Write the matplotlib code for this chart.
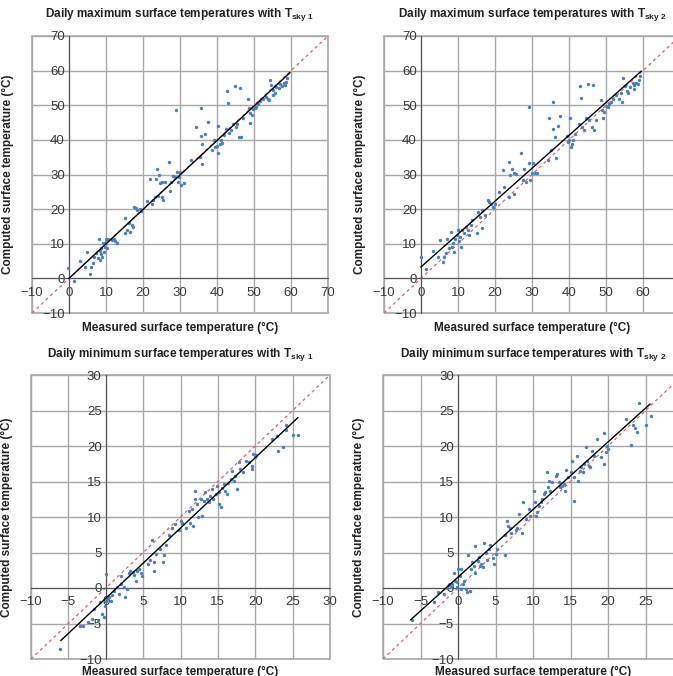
import numpy as np
import matplotlib
matplotlib.use('Agg')
import matplotlib.pyplot as plt
from matplotlib.patches import Rectangle

plt.rcParams['font.family'] = ['Liberation Sans', 'DejaVu Sans']
plt.rcParams['mathtext.fontset'] = 'custom'
plt.rcParams['mathtext.rm'] = 'Liberation Sans'
plt.rcParams['mathtext.bf'] = 'Liberation Sans:bold'

# panel 1: daily max, Tsky 1 (measured, computed)
max1_meas = [-0.3, 1.3, 3.1, 4.9, 4.2, 5.8, 6.0, 6.5, 6.8, 7.4, 8.0, 8.3, 8.6, 8.7, 9.0, 9.4, 9.6, 9.9, 10.1, 10.3,
             10.5, 9.2, 8.3, 7.9, 11.7, 12.1, 12.5, 13.1, 15.0, 15.0, 15.8, 16.2, 16.4, 17.1, 17.3, 17.6, 18.0, 18.5,
             19.1, 19.5, 21.1, 22.0, 22.3, 22.7, 23.3, 23.6, 23.9, 24.1, 24.3, 24.7, 25.0, 25.2, 25.4, 25.9, 27.0,
             27.2, 27.7, 28.1, 28.6, 29.0, 29.2, 29.5, 29.7, 30.1, 30.4, 31.0, 32.9, 34.4, 35.3, 35.6, 35.6, 35.9,
             36.0, 36.8, 37.6, 38.6, 39.2, 39.5, 40.0, 40.3, 40.3, 40.7, 41.2, 41.4, 41.9, 42.5, 42.8, 43.1, 43.2,
             43.7, 44.3, 44.8, 45.0, 45.4, 45.9, 46.3, 46.6, 47.0, 48.4, 48.6, 48.8, 49.0, 49.5, 49.7, 50.2, 50.6,
             51.1, 51.7, 52.4, 53.3, 53.8, 54.4, 54.7, 55.0, 55.1, 55.6, 56.0, 56.8, 57.1, 57.7, 58.0, 58.3, 58.6,
             58.9, 54.1]
max1_comp = [3.1, -0.8, 5.0, 7.5, 3.4, 1.2, 3.4, 4.3, 6.3, 7.2, 11.4, 5.3, 7.0, 8.7, 6.3, 7.7, 9.1, 11.3, 10.4, 8.7,
             11.5, 10.1, 8.0, 5.8, 11.1, 11.5, 10.9, 10.1, 17.3, 13.0, 14.1, 16.1, 13.5, 15.4, 14.7, 20.7, 20.2, 19.7,
             19.9, 19.5, 22.3, 28.8, 21.4, 22.6, 23.6, 28.8, 31.5, 23.8, 29.8, 27.6, 23.6, 27.9, 22.6, 27.9, 33.5,
             25.3, 27.9, 29.6, 29.3, 48.6, 30.8, 27.9, 29.3, 30.8, 26.9, 27.6, 34.3, 43.8, 35.1, 49.3, 41.2, 38.7,
             32.9, 41.8, 45.2, 37.2, 39.9, 37.8, 38.3, 43.9, 36.1, 38.9, 40.1, 39.1, 41.3, 43.0, 54.1, 50.7, 42.0,
             42.8, 44.7, 55.5, 43.8, 44.5, 40.7, 55.1, 40.7, 46.2, 51.7, 49.3, 47.8, 44.9, 47.2, 48.8, 49.3, 49.5,
             50.5, 51.3, 51.9, 52.4, 51.9, 57.2, 55.8, 54.3, 52.9, 53.4, 55.3, 55.1, 56.1, 55.5, 56.4, 55.8, 56.7,
             58.0, 51.4]

# panel 2: daily max, Tsky 2
max2_meas = [0.0, 1.4, 3.2, 4.5, 5.1, 6.0, 6.3, 6.8, 7.0, 7.7, 8.1, 8.4, 8.7, 9.0, 9.3, 9.6, 9.9, 10.2, 10.5, 10.8,
             11.2, 11.7, 12.2, 12.6, 13.0, 13.5, 13.9, 15.0, 15.3, 15.9, 16.4, 16.6, 17.4, 18.0, 18.5, 18.9, 19.4,
             20.1, 21.2, 22.1, 22.5, 23.7, 23.9, 24.1, 24.5, 25.0, 25.2, 25.7, 27.0, 27.5, 27.9, 28.4, 29.1, 29.3,
             29.4, 29.9, 30.4, 30.8, 31.3, 34.2, 34.7, 35.1, 35.6, 35.8, 36.2, 36.5, 37.1, 37.6, 39.4, 39.8, 40.1,
             40.4, 40.5, 40.7, 41.2, 41.7, 42.6, 43.0, 43.2, 43.5, 44.1, 44.6, 45.0, 45.5, 46.1, 46.4, 46.8, 47.3,
             48.6, 48.8, 49.1, 49.5, 50.0, 50.5, 50.9, 51.4, 51.8, 52.7, 53.4, 54.1, 54.3, 54.7, 55.0, 55.6, 56.0,
             56.6, 57.2, 57.7, 58.1, 58.6, 59.0, 59.3, 57.5]
max2_comp = [6.2, 2.6, 8.0, 6.2, 11.1, 4.8, 6.2, 7.2, 11.3, 8.7, 13.5, 9.1, 10.3, 7.7, 11.3, 12.5, 13.9, 10.9, 12.0,
             9.1, 13.9, 13.0, 14.9, 14.1, 12.5, 15.3, 16.8, 13.0, 19.2, 17.8, 14.6, 19.7, 18.3, 22.6, 22.1, 21.4,
             20.7, 21.6, 25.0, 31.3, 26.4, 23.6, 33.7, 29.8, 31.7, 24.5, 30.3, 30.1, 36.1, 28.4, 31.7, 27.9, 49.5,
             33.2, 28.4, 30.3, 33.2, 30.3, 30.3, 34.1, 46.2, 37.0, 43.0, 51.0, 40.7, 34.9, 43.9, 46.8, 41.1, 39.4,
             40.1, 46.4, 37.8, 38.9, 39.9, 41.8, 44.5, 55.5, 52.2, 43.6, 42.8, 46.3, 56.1, 45.6, 43.8, 55.8, 42.8,
             45.6, 51.4, 48.6, 46.4, 48.1, 49.7, 49.5, 50.3, 51.0, 51.7, 52.9, 51.9, 53.4, 51.0, 57.9, 55.5, 54.1,
             53.6, 55.3, 56.3, 55.8, 56.4, 56.1, 57.4, 58.4, 54.8]

# panel 3: daily min, Tsky 1
min1_meas = [-6.1, -3.4, -3.0, -2.4, -1.9, -1.6, -1.1, -0.8, -0.5, -0.3, -0.1, 0.1, 0.0, 0.2, 0.4, 0.7, 0.9, 1.1,
             1.5, 1.8, 2.0, 2.1, 2.4, 2.6, 2.8, 3.1, 3.3, 3.6, 3.8, 4.0, 4.2, 4.4, 4.7, 4.9, 5.6, 5.9, 6.2, 6.4, 6.5,
             6.7, 7.3, 7.6, 7.8, 8.1, 8.4, 8.9, 9.3, 9.8, 10.0, 10.2, 10.7, 11.1, 11.3, 11.6, 11.7, 12.0, 12.0, 12.2,
             12.4, 12.7, 12.9, 13.1, 13.3, 13.6, 13.8, 14.0, 14.2, 14.4, 14.7, 14.9, 15.1, 15.2, 15.4, 15.6, 15.8,
             16.0, 16.2, 16.4, 16.7, 16.9, 17.1, 17.3, 17.6, 17.8, 18.0, 18.4, 18.7, 19.1, 19.6, 19.6, 19.7, 19.9,
             20.1, 22.2, 22.9, 23.1, 23.7, 24.1, 25.1, 25.7, 24.1]
min1_comp = [-8.6, -5.4, -5.3, -4.8, -4.3, -3.0, -4.5, -2.0, -3.7, -4.1, -2.5, 2.0, -1.8, -1.5, -1.2, -1.8, -1.0,
             -0.4, 0.2, -0.8, 1.7, 0.6, 0.2, -1.3, -0.1, 2.1, 2.4, 2.2, 1.8, 1.0, 2.4, 2.7, 2.1, 1.7, 3.4, 4.0, 6.7,
             3.6, 2.4, 4.8, 5.5, 3.7, 4.6, 6.0, 7.4, 8.5, 9.0, 8.2, 9.5, 9.2, 8.5, 10.9, 9.2, 11.1, 8.7, 13.7, 12.5,
             11.8, 10.0, 12.5, 10.2, 12.3, 13.5, 12.5, 12.1, 13.0, 13.9, 12.5, 13.2, 14.4, 13.5, 11.8, 11.4, 14.1,
             14.6, 13.7, 13.2, 14.8, 15.4, 16.5, 15.1, 15.8, 13.9, 17.8, 16.8, 16.3, 17.9, 17.7, 17.2, 16.8, 18.9,
             18.5, 18.7, 21.0, 21.4, 19.3, 19.9, 22.9, 21.5, 21.6, 22.3]

# panel 4: daily min, Tsky 2
min2_meas = [-6.1, -3.2, -2.7, -1.9, -1.5, -1.2, -0.9, -0.8, -0.5, -0.4, -0.2, -0.1, 0.0, 0.2, 0.4, 0.4, 0.6, 0.8,
             1.0, 1.2, 1.6, 1.3, 1.7, 1.9, 2.1, 2.3, 2.3, 2.6, 2.8, 2.9, 3.1, 3.3, 3.5, 3.7, 3.9, 4.1, 4.3, 4.6, 4.8,
             5.0, 5.2, 6.3, 6.3, 6.5, 6.6, 6.9, 7.1, 7.7, 7.9, 8.1, 8.5, 8.7, 9.0, 9.4, 9.6, 10.1, 10.2, 10.4, 10.5,
             10.8, 11.0, 11.2, 11.4, 11.6, 11.8, 12.0, 12.1, 12.3, 12.5, 13.0, 13.2, 13.4, 13.6, 13.8, 14.1, 14.3,
             14.4, 14.6, 15.0, 15.2, 15.4, 15.5, 15.8, 16.0, 16.2, 16.4, 16.6, 16.8, 17.0, 17.2, 17.4, 17.6, 17.8,
             18.1, 18.5, 19.0, 19.4, 19.5, 19.7, 19.9, 20.0, 22.4, 23.0, 23.3, 23.6, 23.8, 24.1, 25.1, 25.7]
min2_comp = [-4.5, -2.0, -0.5, -0.8, 0.0, 0.4, 0.2, 0.6, 2.1, 1.0, 0.1, 0.8, 2.7, 1.7, -0.2, 2.7, 0.6, 1.0, -0.1,
             -0.5, -0.4, 4.6, 2.7, 3.7, 3.1, 5.9, 2.1, 3.8, 4.3, 3.1, 3.4, 2.9, 6.4, 5.0, 4.0, 5.5, 6.0, 4.2, 3.4,
             4.8, 5.5, 7.5, 4.6, 9.5, 8.8, 8.5, 7.8, 8.1, 8.5, 10.4, 7.8, 12.1, 9.7, 11.1, 10.2, 13.7, 12.1, 10.2,
             10.7, 11.6, 12.1, 12.5, 13.2, 13.5, 16.3, 14.2, 15.1, 13.7, 14.9, 15.8, 16.1, 14.9, 14.2, 14.4, 14.6,
             13.6, 16.6, 15.6, 16.3, 17.9, 12.3, 15.6, 18.6, 15.1, 16.5, 17.0, 16.3, 17.5, 19.8, 17.9, 17.2, 17.0,
             19.3, 18.6, 21.0, 18.4, 17.5, 21.9, 19.1, 20.0, 19.6, 23.8, 20.1, 23.0, 22.6, 22.0, 26.1, 23.0, 24.2]

# regression lines: slope, intercept, x start, x end
fit_max1 = [0.995, 0.0, 0.0, 59.7]
fit_max2 = [0.95, 3.3, 0.0, 59.5]
fit_min1 = [0.99, -1.45, -6.0, 25.7]
fit_min2 = [0.952, 1.53, -6.3, 25.6]

titles = ['Daily maximum surface temperatures with T$_{\\mathbf{sky\\ 1}}$',
          'Daily maximum surface temperatures with T$_{\\mathbf{sky\\ 2}}$',
          'Daily minimum surface temperatures with T$_{\\mathbf{sky\\ 1}}$',
          'Daily minimum surface temperatures with T$_{\\mathbf{sky\\ 2}}$']
xlabel = 'Measured surface temperature (°C)'
ylabel = 'Computed surface temperature (°C)'

W, H = 673, 676
fig = plt.figure(figsize=(W / 100, H / 100), dpi=100)

# axes boxes in pixels: left, top, width, height
boxes = [(32, 36, 296, 277), (384, 36, 296, 277), (31, 375, 299, 284), (383, 375, 300, 284)]
limits = [(-10, 70), (-10, 70), (-10, 30), (-10, 30)]
steps = [10, 10, 5, 5]
# the right-hand panels run past the edge of the picture; their last tick label is not shown
cut_right = [False, True, False, True]
data = [(max1_meas, max1_comp, fit_max1), (max2_meas, max2_comp, fit_max2),
        (min1_meas, min1_comp, fit_min1), (min2_meas, min2_comp, fit_min2)]

for i in range(4):
    l, t, w, h = boxes[i]
    ax = fig.add_axes([l / W, 1 - (t + h) / H, w / W, h / H])
    lo, hi = limits[i]
    ax.set_xlim(lo, hi)
    ax.set_ylim(lo, hi)
    ticks = np.arange(lo, hi + 1, steps[i])
    ax.set_xticks(ticks)
    ax.set_yticks(ticks)
    ax.grid(True, color='#a8a8a8', lw=1.0)
    ax.set_axisbelow(True)

    for s in ['top', 'right']:
        ax.spines[s].set_visible(False)
    ax.spines['left'].set_position(('data', 0))
    ax.spines['bottom'].set_position(('data', 0))
    ax.spines['left'].set_color('#555555')
    ax.spines['bottom'].set_color('#555555')
    ax.add_patch(Rectangle((0, 0), 1, 1, transform=ax.transAxes, fill=False,
                           edgecolor='#a8a8a8', lw=1.2, clip_on=False, zorder=0.5))

    ax.tick_params(length=0, labelsize=9.5, colors='#3a3a3a')
    ax.tick_params(axis='x', pad=6)
    ax.tick_params(axis='y', pad=3)
    lab = [str(v).replace('-', '\u2212') for v in ticks]
    xl = list(lab)
    if cut_right[i]:
        xl[-1] = ''
    ax.set_xticklabels(xl)
    ax.set_yticklabels(lab)

    meas, comp, fit = data[i]
    ax.axline((0, 0), slope=1, color='#e06070', lw=0.9, ls=(0, (2.5, 2.5)), zorder=2)
    ax.scatter(meas, comp, s=6, color='#4a7fc1', lw=0, zorder=3)
    fx = np.array([fit[2], fit[3]])
    ax.plot(fx, fit[0] * fx + fit[1], color='black', lw=1.0, zorder=4)

    ax.text(0.5, 1 + 21 / h, titles[i], transform=ax.transAxes, ha='center', va='center',
            fontsize=8.5, fontweight='bold', color='#222222')
    # x label: 15 px under the box on top, on the bottom row it runs into the picture edge
    ax.text(0.5, -(15 if i < 2 else 13) / h, xlabel, transform=ax.transAxes, ha='center', va='center',
            fontsize=8.5, fontweight='bold', color='#222222')
    ax.text(-24 / w, 0.5, ylabel, transform=ax.transAxes, ha='center', va='center',
            rotation=90, fontsize=8.5, fontweight='bold', color='#222222')

fig.savefig('out.png', dpi=100)
